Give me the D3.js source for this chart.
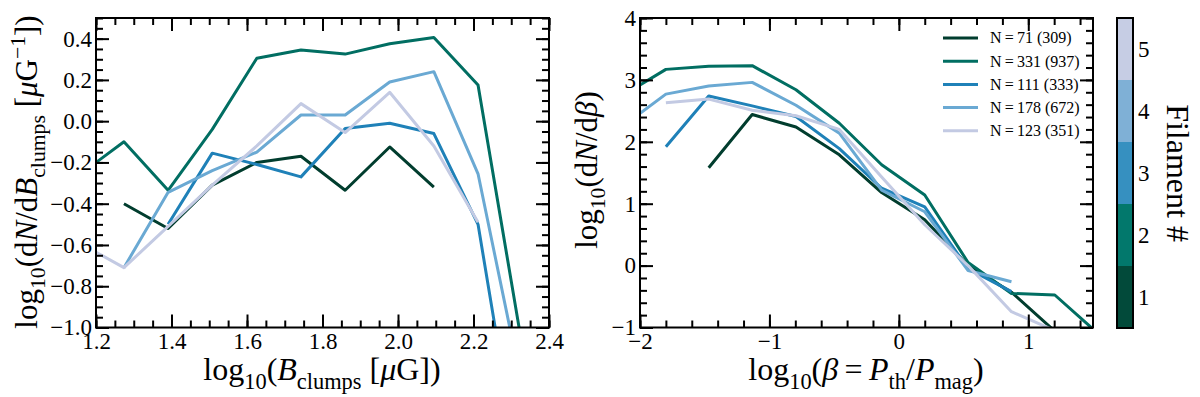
<!DOCTYPE html>
<html>
<head>
<meta charset="utf-8">
<script src="https://cdn.jsdelivr.net/npm/d3@7"></script>
<style>
  body { margin: 0; background: #fff; }
  text { font-family: "Liberation Serif", "Times New Roman", serif; }
</style>
</head>
<body>
<div id="canvas"></div>
<script>
// filament colours (lines) and colourbar swatches
var lineColors = ['#013d2e', '#016e62', '#1f81b8', '#6aa9d3', '#c3cae3'];
var barColors  = ['#024a3a', '#02786c', '#3690c0', '#7fb0d6', '#c6cde4'];
var filaments  = ['1', '2', '3', '4', '5'];
var legendLabels = ['N\u2009=\u200971 (309)', 'N\u2009=\u2009331 (937)', 'N\u2009=\u2009111 (333)',
                    'N\u2009=\u2009178 (672)', 'N\u2009=\u2009123 (351)'];

// left panel: log10 B_clumps bins
var bBins = [1.156, 1.274, 1.391, 1.508, 1.626, 1.743, 1.860, 1.978, 2.095, 2.212, 2.330];
var bF1 = [null, -0.40, -0.52, -0.31, -0.20, -0.17, -0.335, -0.125, -0.32, null, null];
var bF2 = [-0.26, -0.10, -0.335, -0.04, 0.305, 0.345, 0.325, 0.375, 0.405, 0.175, -1.10];
var bF3 = [null, null, -0.50, -0.155, -0.21, -0.27, -0.035, -0.01, -0.06, -0.50, -1.80];
var bF4 = [null, -0.71, -0.345, -0.24, -0.15, 0.03, 0.03, 0.19, 0.24, -0.255, -1.30];
var bF5 = [-0.59, -0.71, -0.51, -0.31, -0.12, 0.085, -0.055, 0.14, -0.12, -0.49, null];

// right panel: log10 beta bins
var betaBins = [-2.135, -1.80, -1.469, -1.133, -0.795, -0.46, -0.133, 0.20, 0.535, 0.87, 1.205, 1.54];
var rF1 = [null, null, 1.58, 2.44, 2.24, 1.79, 1.18, 0.74, 0.0, -0.43, -1.06, null];
var rF2 = [2.75, 3.17, 3.22, 3.23, 2.84, 2.30, 1.63, 1.14, 0.05, -0.45, -0.475, -1.10];
var rF3 = [null, 1.92, 2.74, 2.58, 2.41, 1.89, 1.25, 0.95, -0.05, -0.42, null, null];
var rF4 = [2.25, 2.77, 2.90, 2.96, 2.59, 2.14, 1.22, 0.87, -0.08, -0.26, null, null];
var rF5 = [null, 2.63, 2.69, 2.51, 2.42, 2.20, 1.43, 0.66, 0.0, -0.745, -1.05, null];

// ticks
var leftXTicks = [1.2, 1.4, 1.6, 1.8, 2.0, 2.2, 2.4];
var leftYTicks = [-1.0, -0.8, -0.6, -0.4, -0.2, 0.0, 0.2, 0.4];
var rightXTicks = [-2, -1, 0, 1];
var rightYTicks = [-1, 0, 1, 2, 3, 4];

var W = 1200, H = 397;
var FONT = '"Liberation Serif", "Times New Roman", serif';
var svg = d3.select('#canvas').append('svg').attr('width', W).attr('height', H)
  .style('display', 'block');

var TICK = 23, LAB = 31;

function richText(g, parts, size) {
  // parts: [text, kind] kind: '', 'i', 'sub', 'sup'
  var t = g.append('text').attr('font-size', size).attr('fill', '#000');
  var off = 0;
  parts.forEach(function(p) {
    var target = 0, fs = size;
    if (p[1] === 'sub') { target = 0.27 * size; fs = 0.7 * size; }
    if (p[1] === 'sup') { target = -0.4 * size; fs = 0.7 * size; }
    var ts = t.append('tspan').text(p[0]).attr('font-size', fs).attr('dy', target - off);
    if (p[1] === 'i') ts.attr('font-style', 'italic');
    off = target;
  });
  return t;
}

function panel(box, xDom, yDom, xMaj, xMin, yMaj, yMin, xFmt, yFmt, series, xs, id) {
  var x = d3.scaleLinear().domain(xDom).range([box.x0, box.x1]);
  var y = d3.scaleLinear().domain(yDom).range([box.y1, box.y0]);

  svg.append('clipPath').attr('id', id)
    .append('rect').attr('x', box.x0).attr('y', box.y0)
    .attr('width', box.x1 - box.x0).attr('height', box.y1 - box.y0);

  var line = d3.line()
    .defined(function(d) { return d[1] != null; })
    .x(function(d) { return x(d[0]); })
    .y(function(d) { return y(d[1]); });

  var lg = svg.append('g').attr('clip-path', 'url(#' + id + ')');
  series.forEach(function(s, i) {
    lg.append('path')
      .datum(xs.map(function(v, j) { return [v, s[j]]; }))
      .attr('d', line)
      .attr('fill', 'none')
      .attr('stroke', lineColors[i])
      .attr('stroke-width', 3)
      .attr('stroke-linejoin', 'round');
  });

  function ax(gen, tr, vals, size, fmt, pad) {
    var g = svg.append('g').attr('transform', tr)
      .call(gen.tickValues(vals).tickSize(-size).tickPadding(pad || 0).tickFormat(fmt || ''));
    g.attr('font-family', FONT).attr('font-size', TICK);
    g.select('.domain').remove();
    g.selectAll('line').attr('stroke', '#000').attr('stroke-width', 2);
    g.selectAll('text').attr('font-size', TICK).attr('font-family', FONT).attr('fill', '#000');
    return g;
  }
  var bt = 'translate(0,' + box.y1 + ')', tp = 'translate(0,' + box.y0 + ')';
  var lf = 'translate(' + box.x0 + ',0)', rt = 'translate(' + box.x1 + ',0)';
  xMin = xMin.filter(function(v) { return v >= xDom[0] && v <= xDom[1]; });
  yMin = yMin.filter(function(v) { return v >= yDom[0] && v <= yDom[1]; });
  ax(d3.axisBottom(x), bt, xMaj, 13, xFmt, 5);
  ax(d3.axisBottom(x), bt, xMin, 7);
  ax(d3.axisTop(x), tp, xMaj, 13);
  ax(d3.axisTop(x), tp, xMin, 7);
  ax(d3.axisLeft(y), lf, yMaj, 13, yFmt, 4);
  ax(d3.axisLeft(y), lf, yMin, 7);
  ax(d3.axisRight(y), rt, yMaj, 13);
  ax(d3.axisRight(y), rt, yMin, 7);

  svg.append('rect').attr('x', box.x0).attr('y', box.y0)
    .attr('width', box.x1 - box.x0).attr('height', box.y1 - box.y0)
    .attr('fill', 'none').attr('stroke', '#000').attr('stroke-width', 2);
  return { x: x, y: y };
}

function minor(a, b, step) {
  return d3.range(Math.round((b - a) / step) + 1).map(function(i) { return +(a + i * step).toFixed(3); });
}

var leftBox = { x0: 96, x1: 549, y0: 18, y1: 327.5 };
var rightBox = { x0: 640, x1: 1093, y0: 18, y1: 327.5 };

panel(leftBox, [1.2, 2.4], [-1.0, 0.5], leftXTicks, minor(1.2, 2.4, 0.05),
  leftYTicks, minor(-1.0, 0.5, 0.05), d3.format('.1f'), d3.format('.1f'),
  [bF1, bF2, bF3, bF4, bF5], bBins, 'clipL');

panel(rightBox, [-2, 1.5], [-1, 4], rightXTicks, minor(-2, 1.4, 0.2),
  rightYTicks, minor(-1, 4, 0.2), d3.format('d'), d3.format('d'),
  [rF1, rF2, rF3, rF4, rF5], betaBins, 'clipR');

// axis labels
richText(svg, [['log', ''], ['10', 'sub'], ['(', ''], ['B', 'i'], ['clumps', 'sub'], [' [', ''], ['\u03bc', 'i'], ['G])', '']], 32)
  .attr('x', 322).attr('y', 380).attr('text-anchor', 'middle');
richText(svg, [['log', ''], ['10', 'sub'], ['(d', ''], ['N', 'i'], ['/d', ''], ['B', 'i'], ['clumps', 'sub'],
  [' [', ''], ['\u03bc', 'i'], ['G', ''], ['\u22121', 'sup'], ['])', '']], LAB)
  .attr('text-anchor', 'middle').attr('transform', 'translate(37,172) rotate(-90)');
richText(svg, [['log', ''], ['10', 'sub'], ['(', ''], ['\u03b2', 'i'], ['\u2009=\u2009', ''], ['P', 'i'], ['th', 'sub'],
  ['/', ''], ['P', 'i'], ['mag', 'sub'], [')', '']], 32)
  .attr('x', 866).attr('y', 380).attr('text-anchor', 'middle');
richText(svg, [['log', ''], ['10', 'sub'], ['(d', ''], ['N', 'i'], ['/d', ''], ['\u03b2', 'i'], [')', '']], LAB)
  .attr('text-anchor', 'middle').attr('transform', 'translate(597,170) rotate(-90)');

// legend
var leg = svg.append('g');
legendLabels.forEach(function(l, i) {
  var yy = 38 + i * 23.2;
  leg.append('line').attr('x1', 943).attr('x2', 978).attr('y1', yy).attr('y2', yy)
    .attr('stroke', lineColors[i]).attr('stroke-width', 3);
  leg.append('text').attr('x', 990).attr('y', yy).attr('dy', '0.34em')
    .attr('font-size', 16).text(l);
});

// colourbar
var cb = { x0: 1117, x1: 1133, y0: 18, y1: 328 };
var cy = d3.scaleBand().domain(filaments.slice().reverse()).range([cb.y0, cb.y1]).padding(0);
filaments.forEach(function(f, i) {
  svg.append('rect').attr('x', cb.x0).attr('y', cy(f)).attr('width', cb.x1 - cb.x0)
    .attr('height', cy.bandwidth()).attr('fill', barColors[i]);
  svg.append('text').attr('x', 1138).attr('y', cy(f) + cy.bandwidth() / 2).attr('dy', '0.35em')
    .attr('font-size', TICK).text(f);
});
svg.append('rect').attr('x', cb.x0).attr('y', cb.y0).attr('width', cb.x1 - cb.x0)
  .attr('height', cb.y1 - cb.y0).attr('fill', 'none').attr('stroke', '#000').attr('stroke-width', 2);
svg.append('text').attr('font-size', 32).attr('text-anchor', 'middle')
  .attr('transform', 'translate(1167,173) rotate(90)').text('Filament #');
</script>
</body>
</html>
